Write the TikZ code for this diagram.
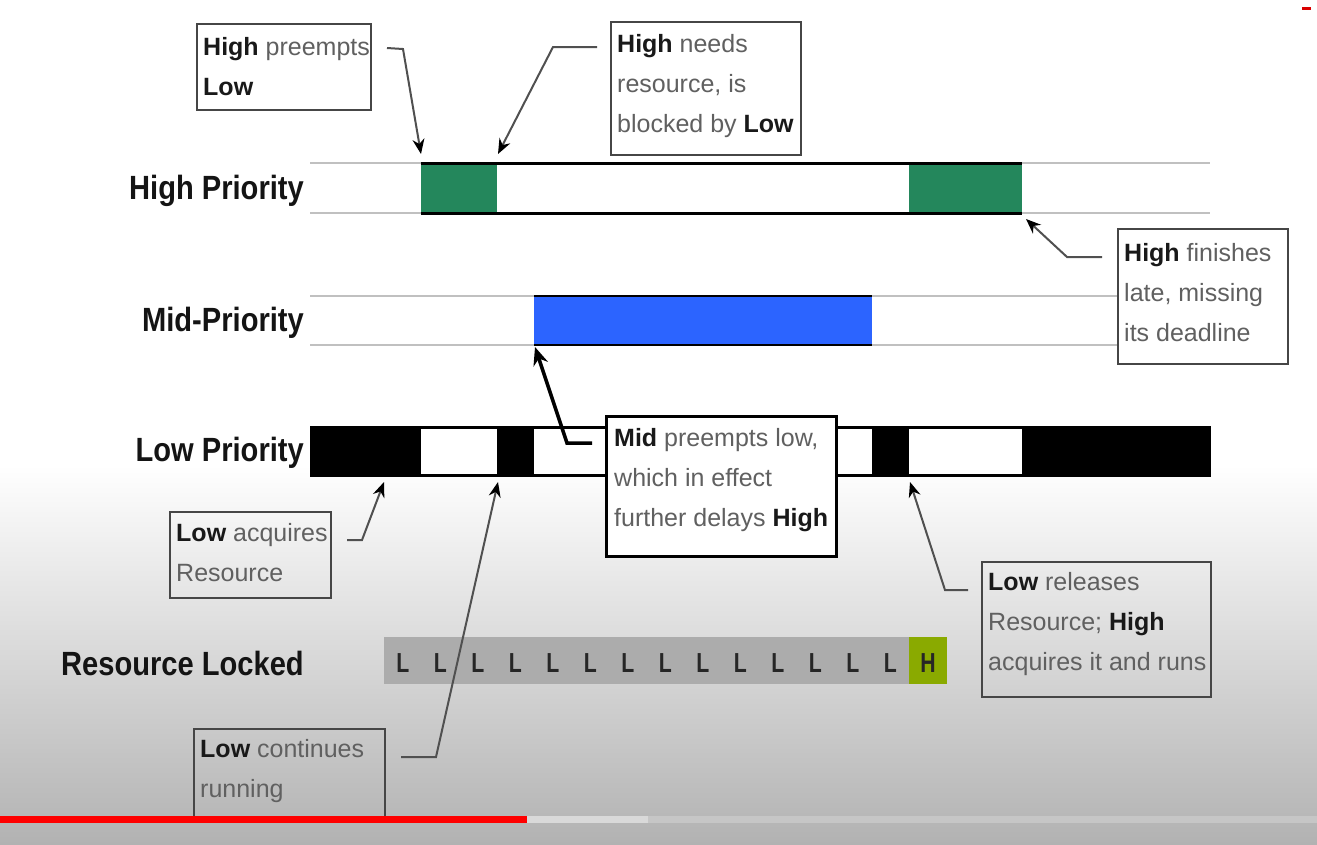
\documentclass[tikz,border=0pt]{standalone}
\usepackage{fontspec}
\setmainfont{Liberation Sans}
\usetikzlibrary{arrows.meta,calc}
\definecolor{hgreen}{RGB}{36,135,92}
\definecolor{mblue}{RGB}{44,100,255}
\definecolor{lgray}{RGB}{192,192,192}
\definecolor{bgray}{RGB}{70,70,70}
\definecolor{cgray}{RGB}{80,80,80}
\definecolor{tgray}{RGB}{96,96,96}
\definecolor{rgray}{RGB}{172,172,172}
\definecolor{hcell}{RGB}{138,170,0}
\definecolor{bottomgray}{RGB}{178,178,178}
\newcommand\kw[1]{{\bfseries\color{black!90}#1}}
\newcommand\rlab[1]{\scalebox{0.97}[1.12]{#1}}
\begin{document}
\begin{tikzpicture}[x=1pt,y=-1pt,
  gline/.style={draw=lgray,line width=2.5pt},
  blk/.style={inner sep=0pt,outer sep=0pt,anchor=north west,minimum height=50pt},
  callout/.style={draw=bgray,line width=2pt,inner sep=0pt,outer sep=0pt,anchor=north west},
  ctext/.style={inner sep=0pt,anchor=west,align=left,font=\fontsize{25}{40}\selectfont,text=tgray},
  rowlabel/.style={inner sep=0pt,anchor=east,font=\fontsize{30}{36}\selectfont\bfseries,text=black!92},
  letter/.style={inner sep=0pt,font=\fontsize{25}{30}\selectfont\bfseries,text=black!85},
  conn/.style={draw=cgray,line width=2pt,-{Stealth[length=15pt,width=12pt,color=black]}},
  bconn/.style={draw=black,line width=3.5pt,-{Stealth[length=18pt,width=15pt,color=black]}}]
\useasboundingbox (0,0) rectangle (1317,844);
% background
\fill[white] (0,0) rectangle (1317,844);
\shade[top color=white,bottom color=bottomgray] (0,465) rectangle (1317,844);
\fill[red!85!black] (1302,7) rectangle (1311,10);

% row labels
\node[rowlabel] (lh) at (304,191) {\rlab{High Priority}};
\node[rowlabel] (lm) at (304,323) {\rlab{Mid-Priority}};
\node[rowlabel] (ll) at (304,453) {\rlab{Low Priority}};
\node[rowlabel] (lr) at (304,663) {\rlab{Resource Locked}};

% high row
\draw[gline] (310,163) -- (1210,163);
\draw[gline] (310,213) -- (1210,213);
\node[blk,fill=hgreen,minimum width=76pt] (g1) at (421,163) {};
\node[blk,fill=hgreen,minimum width=113pt] (g2) at (909,163) {};
\draw[line width=3pt] (g1.north west) -- (g2.north east);
\draw[line width=3pt] (g1.south west) -- (g2.south east);

% mid row
\draw[gline] (310,296) -- (1210,296);
\draw[gline] (310,345) -- (1210,345);
\node[blk,fill=mblue,minimum width=338pt,minimum height=49pt] (bl) at (534,296) {};
\draw[line width=2.5pt] (bl.north west) -- (bl.north east);
\draw[line width=2.5pt] (bl.south west) -- (bl.south east);

% low row
\node[blk,draw=black,line width=3pt,fill=white,minimum width=898pt,minimum height=48pt] (lowbar) at (311,427) {};
\node[blk,fill=black,minimum width=111pt] (k1) at (310,426) {};
\node[blk,fill=black,minimum width=37pt] (k2) at (497,426) {};
\node[blk,fill=black,minimum width=37pt] (k3) at (872,426) {};
\node[blk,fill=black,minimum width=188pt] (k4) at (1022,426) {};

% resource bar
\node[blk,fill=rgray,minimum width=563pt,minimum height=47pt] (res) at (384,637) {};
\node[blk,fill=hcell,minimum width=38pt,minimum height=47pt] (hc) at (909,637) {};
\foreach \i in {0,...,13} {
  \node[letter] (L\i) at (402.75+37.5*\i,663) {\scalebox{0.85}[1.1]{L}};
}
\node[letter] (Hl) at (928,663) {\scalebox{0.85}[1.1]{H}};

% callouts
\node[callout,minimum width=174pt,minimum height=86pt] (c1) at (197,24) {};
\node[ctext] (t1) at ($(c1.west)+(6,0)$) {\kw{High} preempts\\\kw{Low}};

\node[callout,minimum width=190pt,minimum height=133pt] (c2) at (611,22) {};
\node[ctext] (t2) at ($(c2.west)+(6,-2)$) {\kw{High} needs\\resource, is\\blocked by \kw{Low}};

\node[callout,minimum width=170pt,minimum height=135pt,fill=white] (c3) at (1118,229) {};
\node[ctext] (t3) at ($(c3.west)+(6,-4)$) {\kw{High} finishes\\late, missing\\its deadline};

\node[callout,draw=black,line width=3pt,fill=white,minimum width=230pt,minimum height=140pt] (c4) at (606,416) {};
\node[ctext] (t4) at ($(c4.west)+(8,-6)$) {\kw{Mid} preempts low,\\which in effect\\further delays \kw{High}};

\node[callout,minimum width=161pt,minimum height=86pt] (c5) at (170,512) {};
\node[ctext] (t5) at ($(c5.west)+(6,-2)$) {\kw{Low} acquires\\Resource};

\node[callout,minimum width=191pt,minimum height=92pt] (c6) at (194,729) {};
\node[ctext] (t6) at ($(c6.west)+(6,-4)$) {\kw{Low} continues\\running};

\node[callout,minimum width=229pt,minimum height=135pt] (c7) at (982,562) {};
\node[ctext] (t7) at ($(c7.west)+(6,-5)$) {\kw{Low} releases\\Resource; \kw{High}\\acquires it and runs};

% connectors
\draw[conn] ($(c1.east)+(16,-19)$) -- (403,49) -- ($(g1.north west)+(0,-9)$);
\draw[conn] ($(c2.west)+(-14,-41.5)$) -- (553,47) -- ($(g1.north east)+(1,-9)$);
\draw[conn] ($(c3.west)+(-16,-39.5)$) -- (1067,257) -- ($(g2.south east)+(4,6)$);
\draw[bconn] ($(c4.west)+(-14,-43)$) -- (567,443) -- ($(bl.south west)+(1,2)$);
\draw[conn] ($(c5.east)+(16,-15)$) -- (362,540) -- ($(k1.south west)+(74,6)$);
\draw[conn] ($(c6.east)+(16,-18)$) -- (436,757) -- ($(k2.south west)+(1,6)$);
\draw[conn] ($(c7.west)+(-14,-39.5)$) -- (945,590) -- ($(k3.south east)+(1,6)$);

% video progress bar
\fill[red] (0,816) rectangle (527,823);
\fill[gray!30] (527,816) rectangle (648,823);
\fill[gray!45] (648,816) rectangle (1317,823);
\end{tikzpicture}
\end{document}
